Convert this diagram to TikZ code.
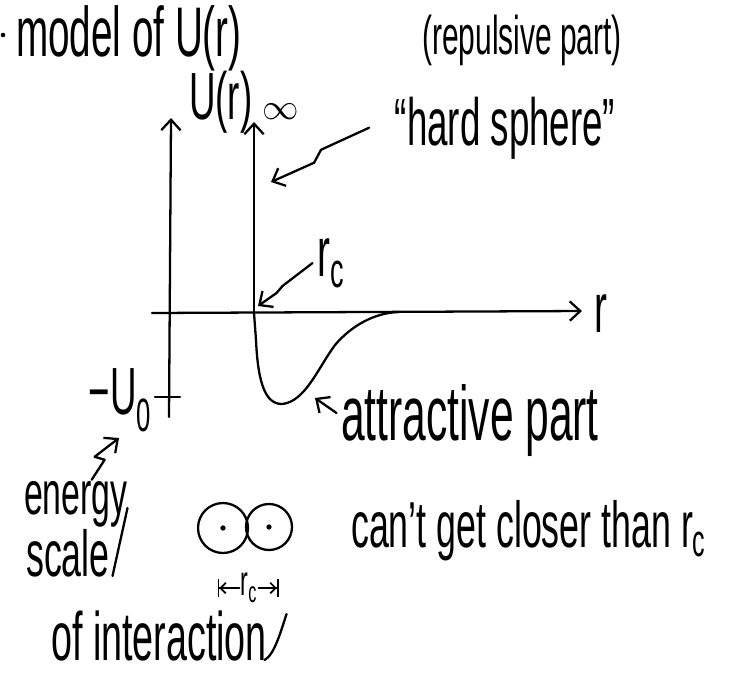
\documentclass[tikz,border=0pt]{standalone}
\usepackage{fontspec}
\setmainfont{Liberation Sans}[FakeStretch=0.55]
\usetikzlibrary{arrows.meta}

\begin{document}
\begin{tikzpicture}[x=0.02cm, y=-0.02cm, line width=1.3pt, line cap=round, line join=round,
  >={Straight Barb[length=6pt,width=11pt]},
  hand/.style={font=\fontsize{#1}{#1}\selectfont, inner sep=0pt}]
\useasboundingbox (0,0) rectangle (732,673);
% axes and the potential
\coordinate (Ubot) at (169,417);
\coordinate (Utop) at (171,118);
\coordinate (rbeg) at (152,313);
\coordinate (rend) at (582,311);
\coordinate (rc) at (254,313);
\coordinate (wall) at (254,122);
\draw[->] (Ubot) -- (Utop);
\draw[->] (rbeg) -- (rend);
\draw[->] (rc) -- (wall);
\draw (155,397) -- (180,397);
\draw (rc) -- (256,340) .. controls (258,385) and (266,404) .. (282,404)
  .. controls (305,402) and (318,368) .. (335,345)
  .. controls (352,325) and (375,313) .. (398,312);
% labels
\fill (3,35) circle (1.3pt);
\node[hand=40, anchor=base west] (title) at (15,56) {model of U(r)};
\node[hand=38, anchor=base west] (Ulab) at (188,119) {U(r)};
\node[hand=22] (inf) at (281,112) {$\infty$};
\node[hand=31, anchor=base] (rep) at (522,54) {(repulsive part)};
\node[hand=38, anchor=base] (hs) at (505,145) {``hard sphere''};
\node[hand=40, anchor=base west] (rclab) at (316,276) {r\textsubscript{c}};
\node[hand=40] (rlab) at (601,314) {r};
\node[hand=44, anchor=base west] (att) at (340,440) {attractive part};
\node[hand=38, anchor=base east] (U0) at (153,414) {−U\textsubscript{0}};
\node[hand=35, anchor=base west] (en) at (23,514) {energy};
\node[hand=37, anchor=base west] (sc) at (25,576) {scale};
\node[hand=39, anchor=base west] (oi) at (50,660) {of interaction};
\node[hand=37, anchor=base west] (cg) at (350,547) {can't get closer than r\textsubscript{c}};
% pointers
\coordinate (wallp) at (271,182);
\coordinate (rcp) at (258,306);
\coordinate (minp) at (315,398);
\coordinate (U0p) at (119,438);
\draw[->] ([xshift=-14pt]hs.west) -- ++(-48,22) -- ++(-7,13) -- (wallp);
\draw[->] ([xshift=-2pt]rclab.west) -- ++(-30,23) -- ++(-6,7) -- (rcp);
\draw[->] ([xshift=-2pt,yshift=4pt]att.west) -- (minp);
\draw[->] ([xshift=9pt]en.north) -- ++(13,-20) -- ++(-10,-3) -- (U0p);
\draw ([xshift=1pt]sc.base east) -- ++(15,-68);
\draw ([xshift=-2pt]oi.base east) .. controls +(10,-5) and +(-5,15) .. ++(22,-46);
% two hard spheres
\node[circle, draw, minimum size=1cm, inner sep=0pt] (c1) at (223,528) {};
\node[circle, draw, minimum size=0.92cm, inner sep=0pt] (c2) at (269,527) {};
\fill (c1.center) circle (1.5pt) (c2.center) circle (1.5pt);
\node[hand=24] (rcs) at (249,588) {r\textsubscript{c}};
\draw[line width=1pt, -{Straight Barb[length=3pt,width=6pt]Bar[width=10pt]}] (rcs.west) -- ++(-22,0);
\draw[line width=1pt, -{Straight Barb[length=3pt,width=6pt]Bar[width=10pt]}] (rcs.east) -- ++(20,0);
\end{tikzpicture}
\end{document}
